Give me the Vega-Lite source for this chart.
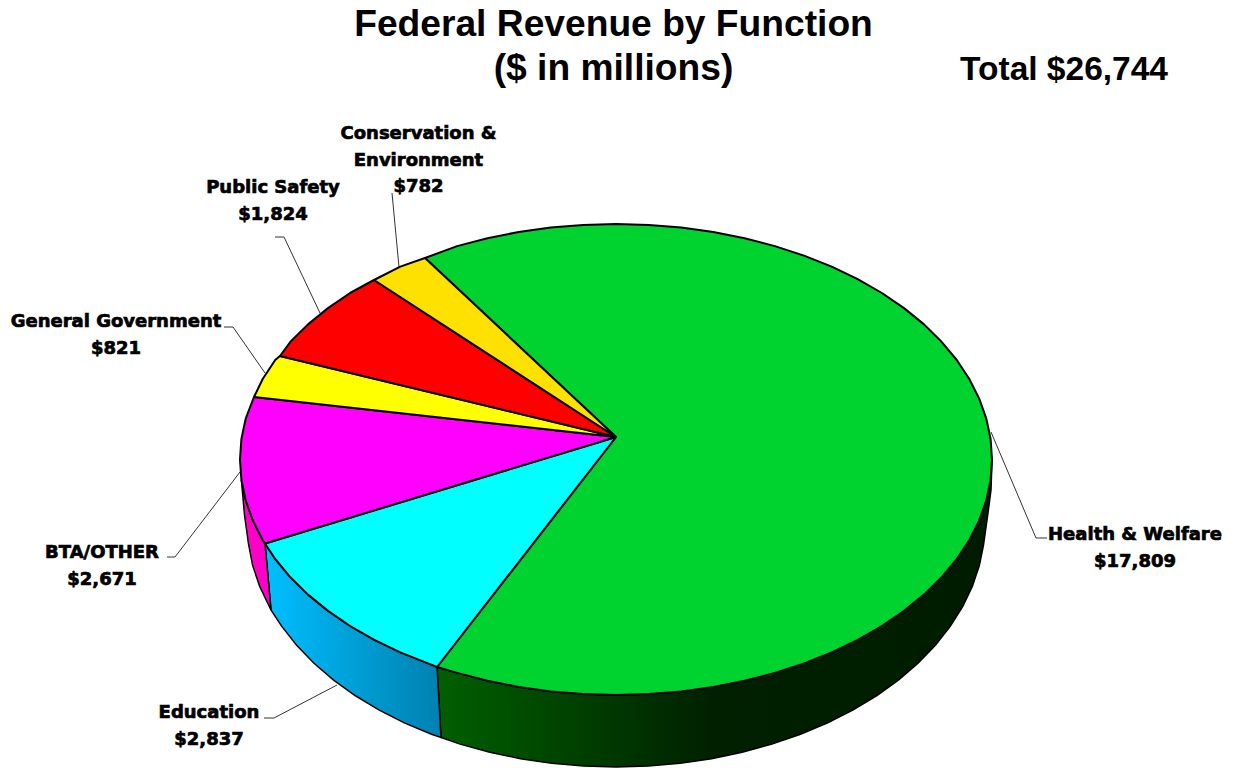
{
"$schema":"https://vega.github.io/schema/vega-lite/v6.json",
"width":1233,"height":768,"padding":0,"autosize":"none","background":"white",
"title":{"text":["Federal Revenue by Function","($ in millions)"],"font":"Liberation Sans","fontSize":37.2,"fontWeight":"bold","color":"black","anchor":"middle","baseline":"top","offset":-88,"dx":-3,"lineHeight":44},
"config":{"view":{"stroke":null}},
"datasets":{
"side":[
{"s":"Health & Welfare","o":1,"x":437,"y":667},{"s":"Health & Welfare","o":2,"x":457.1,"y":672.9},{"s":"Health & Welfare","o":3,"x":487.4,"y":680.8},{"s":"Health & Welfare","o":4,"x":518.7,"y":687},{"s":"Health & Welfare","o":5,"x":550.7,"y":691.4},{"s":"Health & Welfare","o":6,"x":583.2,"y":694.1},{"s":"Health & Welfare","o":7,"x":616,"y":695},{"s":"Health & Welfare","o":8,"x":648.8,"y":694.1},{"s":"Health & Welfare","o":9,"x":681.3,"y":691.4},{"s":"Health & Welfare","o":10,"x":713.3,"y":687},{"s":"Health & Welfare","o":11,"x":744.6,"y":680.8},{"s":"Health & Welfare","o":12,"x":774.9,"y":672.9},{"s":"Health & Welfare","o":13,"x":804,"y":663.4},{"s":"Health & Welfare","o":14,"x":831.7,"y":652.4},{"s":"Health & Welfare","o":15,"x":857.7,"y":639.9},{"s":"Health & Welfare","o":16,"x":881.9,"y":626},{"s":"Health & Welfare","o":17,"x":904,"y":610.9},{"s":"Health & Welfare","o":18,"x":924,"y":594.6},{"s":"Health & Welfare","o":19,"x":941.6,"y":577.3},{"s":"Health & Welfare","o":20,"x":956.8,"y":559},{"s":"Health & Welfare","o":21,"x":969.3,"y":540},{"s":"Health & Welfare","o":22,"x":979.2,"y":520.4},{"s":"Health & Welfare","o":23,"x":986.3,"y":500.4},{"s":"Health & Welfare","o":24,"x":990.6,"y":480},{"s":"Health & Welfare","o":25,"x":992,"y":459.5},{"s":"Health & Welfare","o":26,"x":991,"y":490},{"s":"Health & Welfare","o":27,"x":988,"y":513},{"s":"Health & Welfare","o":28,"x":983.5,"y":545},{"s":"Health & Welfare","o":29,"x":979.4,"y":565.4},{"s":"Health & Welfare","o":30,"x":972.4,"y":586.1},{"s":"Health & Welfare","o":31,"x":962.8,"y":606.4},{"s":"Health & Welfare","o":32,"x":950.4,"y":626.1},{"s":"Health & Welfare","o":33,"x":935.6,"y":645},{"s":"Health & Welfare","o":34,"x":918.3,"y":663},{"s":"Health & Welfare","o":35,"x":898.7,"y":679.8},{"s":"Health & Welfare","o":36,"x":876.9,"y":695.5},{"s":"Health & Welfare","o":37,"x":853.2,"y":709.9},{"s":"Health & Welfare","o":38,"x":827.7,"y":722.9},{"s":"Health & Welfare","o":39,"x":800.5,"y":734.3},{"s":"Health & Welfare","o":40,"x":771.9,"y":744.1},{"s":"Health & Welfare","o":41,"x":742.2,"y":752.3},{"s":"Health & Welfare","o":42,"x":711.5,"y":758.7},{"s":"Health & Welfare","o":43,"x":680.1,"y":763.3},{"s":"Health & Welfare","o":44,"x":648.2,"y":766.1},{"s":"Health & Welfare","o":45,"x":616,"y":767},{"s":"Health & Welfare","o":46,"x":583.8,"y":766.1},{"s":"Health & Welfare","o":47,"x":551.9,"y":763.3},{"s":"Health & Welfare","o":48,"x":520.5,"y":758.7},{"s":"Health & Welfare","o":49,"x":489.8,"y":752.3},{"s":"Health & Welfare","o":50,"x":460.1,"y":744.1},{"s":"Health & Welfare","o":51,"x":441,"y":737.5},{"s":"Health & Welfare","o":52,"x":437,"y":667},
{"s":"Education","o":1,"x":265,"y":543.5},{"s":"Education","o":2,"x":275.2,"y":559},{"s":"Education","o":3,"x":290.4,"y":577.3},{"s":"Education","o":4,"x":308,"y":594.6},{"s":"Education","o":5,"x":328,"y":610.9},{"s":"Education","o":6,"x":350.1,"y":626},{"s":"Education","o":7,"x":374.3,"y":639.9},{"s":"Education","o":8,"x":400.3,"y":652.4},{"s":"Education","o":9,"x":428,"y":663.4},{"s":"Education","o":10,"x":437,"y":667},{"s":"Education","o":11,"x":441,"y":737.5},{"s":"Education","o":12,"x":431.5,"y":734.3},{"s":"Education","o":13,"x":404.3,"y":722.9},{"s":"Education","o":14,"x":378.8,"y":709.9},{"s":"Education","o":15,"x":355.1,"y":695.5},{"s":"Education","o":16,"x":333.3,"y":679.8},{"s":"Education","o":17,"x":313.7,"y":663},{"s":"Education","o":18,"x":296.4,"y":645},{"s":"Education","o":19,"x":281.6,"y":626.1},{"s":"Education","o":20,"x":271,"y":610},{"s":"Education","o":21,"x":265,"y":543.5},
{"s":"BTA/OTHER","o":1,"x":241.4,"y":480},{"s":"BTA/OTHER","o":2,"x":245.7,"y":500.4},{"s":"BTA/OTHER","o":3,"x":252.8,"y":520.4},{"s":"BTA/OTHER","o":4,"x":262.7,"y":540},{"s":"BTA/OTHER","o":5,"x":265,"y":543.5},{"s":"BTA/OTHER","o":6,"x":271,"y":610},{"s":"BTA/OTHER","o":7,"x":259.6,"y":586.1},{"s":"BTA/OTHER","o":8,"x":252.6,"y":565.4},{"s":"BTA/OTHER","o":9,"x":248.5,"y":544},{"s":"BTA/OTHER","o":10,"x":244.5,"y":515},{"s":"BTA/OTHER","o":11,"x":241.4,"y":480}
],
"top":[
{"s":"Health & Welfare","o":0,"x":616,"y":437},{"s":"Health & Welfare","o":1,"x":425,"y":258},{"s":"Health & Welfare","o":2,"x":457.1,"y":246.1},{"s":"Health & Welfare","o":3,"x":487.4,"y":238.2},{"s":"Health & Welfare","o":4,"x":518.7,"y":232},{"s":"Health & Welfare","o":5,"x":550.7,"y":227.6},{"s":"Health & Welfare","o":6,"x":583.2,"y":224.9},{"s":"Health & Welfare","o":7,"x":616,"y":224},{"s":"Health & Welfare","o":8,"x":648.8,"y":224.9},{"s":"Health & Welfare","o":9,"x":681.3,"y":227.6},{"s":"Health & Welfare","o":10,"x":713.3,"y":232},{"s":"Health & Welfare","o":11,"x":744.6,"y":238.2},{"s":"Health & Welfare","o":12,"x":774.9,"y":246.1},{"s":"Health & Welfare","o":13,"x":804,"y":255.6},{"s":"Health & Welfare","o":14,"x":831.7,"y":266.6},{"s":"Health & Welfare","o":15,"x":857.7,"y":279.1},{"s":"Health & Welfare","o":16,"x":881.9,"y":293},{"s":"Health & Welfare","o":17,"x":904,"y":308.1},{"s":"Health & Welfare","o":18,"x":924,"y":324.4},{"s":"Health & Welfare","o":19,"x":941.6,"y":341.8},{"s":"Health & Welfare","o":20,"x":956.8,"y":360},{"s":"Health & Welfare","o":21,"x":969.3,"y":379},{"s":"Health & Welfare","o":22,"x":979.2,"y":398.6},{"s":"Health & Welfare","o":23,"x":986.3,"y":418.6},{"s":"Health & Welfare","o":24,"x":990.6,"y":439},{"s":"Health & Welfare","o":25,"x":992,"y":459.5},{"s":"Health & Welfare","o":26,"x":990.6,"y":480},{"s":"Health & Welfare","o":27,"x":986.3,"y":500.4},{"s":"Health & Welfare","o":28,"x":979.2,"y":520.4},{"s":"Health & Welfare","o":29,"x":969.3,"y":540},{"s":"Health & Welfare","o":30,"x":956.8,"y":559},{"s":"Health & Welfare","o":31,"x":941.6,"y":577.3},{"s":"Health & Welfare","o":32,"x":924,"y":594.6},{"s":"Health & Welfare","o":33,"x":904,"y":610.9},{"s":"Health & Welfare","o":34,"x":881.9,"y":626},{"s":"Health & Welfare","o":35,"x":857.7,"y":639.9},{"s":"Health & Welfare","o":36,"x":831.7,"y":652.4},{"s":"Health & Welfare","o":37,"x":804,"y":663.4},{"s":"Health & Welfare","o":38,"x":774.9,"y":672.9},{"s":"Health & Welfare","o":39,"x":744.6,"y":680.8},{"s":"Health & Welfare","o":40,"x":713.3,"y":687},{"s":"Health & Welfare","o":41,"x":681.3,"y":691.4},{"s":"Health & Welfare","o":42,"x":648.8,"y":694.1},{"s":"Health & Welfare","o":43,"x":616,"y":695},{"s":"Health & Welfare","o":44,"x":583.2,"y":694.1},{"s":"Health & Welfare","o":45,"x":550.7,"y":691.4},{"s":"Health & Welfare","o":46,"x":518.7,"y":687},{"s":"Health & Welfare","o":47,"x":487.4,"y":680.8},{"s":"Health & Welfare","o":48,"x":457.1,"y":672.9},{"s":"Health & Welfare","o":49,"x":437,"y":667},{"s":"Health & Welfare","o":50,"x":616,"y":437},
{"s":"Education","o":0,"x":616,"y":437},{"s":"Education","o":1,"x":437,"y":667},{"s":"Education","o":2,"x":428,"y":663.4},{"s":"Education","o":3,"x":400.3,"y":652.4},{"s":"Education","o":4,"x":374.3,"y":639.9},{"s":"Education","o":5,"x":350.1,"y":626},{"s":"Education","o":6,"x":328,"y":610.9},{"s":"Education","o":7,"x":308,"y":594.6},{"s":"Education","o":8,"x":290.4,"y":577.3},{"s":"Education","o":9,"x":275.2,"y":559},{"s":"Education","o":10,"x":265,"y":543.5},{"s":"Education","o":11,"x":616,"y":437},
{"s":"BTA/OTHER","o":0,"x":616,"y":437},{"s":"BTA/OTHER","o":1,"x":265,"y":543.5},{"s":"BTA/OTHER","o":2,"x":262.7,"y":540},{"s":"BTA/OTHER","o":3,"x":252.8,"y":520.4},{"s":"BTA/OTHER","o":4,"x":245.7,"y":500.4},{"s":"BTA/OTHER","o":5,"x":241.4,"y":480},{"s":"BTA/OTHER","o":6,"x":240,"y":459.5},{"s":"BTA/OTHER","o":7,"x":241.4,"y":439},{"s":"BTA/OTHER","o":8,"x":245.7,"y":418.6},{"s":"BTA/OTHER","o":9,"x":254,"y":397},{"s":"BTA/OTHER","o":10,"x":616,"y":437},
{"s":"General Government","o":0,"x":616,"y":437},{"s":"General Government","o":1,"x":254,"y":397},{"s":"General Government","o":2,"x":262.7,"y":379},{"s":"General Government","o":3,"x":275.2,"y":360},{"s":"General Government","o":4,"x":280,"y":356},{"s":"General Government","o":5,"x":616,"y":437},
{"s":"Public Safety","o":0,"x":616,"y":437},{"s":"Public Safety","o":1,"x":280,"y":356},{"s":"Public Safety","o":2,"x":290.4,"y":341.8},{"s":"Public Safety","o":3,"x":308,"y":324.4},{"s":"Public Safety","o":4,"x":328,"y":308.1},{"s":"Public Safety","o":5,"x":350.1,"y":293},{"s":"Public Safety","o":6,"x":374,"y":280},{"s":"Public Safety","o":7,"x":616,"y":437},
{"s":"Conservation & Environment","o":0,"x":616,"y":437},{"s":"Conservation & Environment","o":1,"x":374,"y":280},{"s":"Conservation & Environment","o":2,"x":400.3,"y":266.6},{"s":"Conservation & Environment","o":3,"x":425,"y":258},{"s":"Conservation & Environment","o":4,"x":616,"y":437}
],
"leaders":[
{"s":"Public Safety","o":1,"x":275,"y":237},{"s":"Public Safety","o":2,"x":284,"y":237},{"s":"Public Safety","o":3,"x":320,"y":313},
{"s":"General Government","o":1,"x":224,"y":327},{"s":"General Government","o":2,"x":233,"y":327},{"s":"General Government","o":3,"x":265,"y":373},
{"s":"Conservation & Environment","o":1,"x":392,"y":193},{"s":"Conservation & Environment","o":2,"x":399,"y":267},
{"s":"BTA/OTHER","o":1,"x":167,"y":557},{"s":"BTA/OTHER","o":2,"x":175,"y":557},{"s":"BTA/OTHER","o":3,"x":240,"y":472},
{"s":"Education","o":1,"x":264,"y":718},{"s":"Education","o":2,"x":274,"y":718},{"s":"Education","o":3,"x":337,"y":685},
{"s":"Health & Welfare","o":1,"x":1047,"y":538},{"s":"Health & Welfare","o":2,"x":1036,"y":538},{"s":"Health & Welfare","o":3,"x":991,"y":432}
],
"labels":[
{"t":"Conservation &\nEnvironment\n$782","x":418.5,"y":125},
{"t":"Public Safety\n$1,824","x":273,"y":179},
{"t":"General Government\n$821","x":116,"y":313},
{"t":"BTA/OTHER\n$2,671","x":102,"y":544},
{"t":"Education\n$2,837","x":209,"y":704},
{"t":"Health & Welfare\n$17,809","x":1135,"y":526}
],
"total":[{"t":"Total $26,744","x":1064,"y":70}]
},
"layer":[
{"data":{"name":"leaders"},"mark":{"type":"line","stroke":"#333333","strokeWidth":1},
"encoding":{"x":{"field":"x","type":"quantitative","scale":{"domain":[0,1233],"nice":false,"zero":false},"axis":null},"y":{"field":"y","type":"quantitative","scale":{"domain":[768,0],"nice":false,"zero":false},"axis":null},"detail":{"field":"s"},"order":{"field":"o","type":"ordinal"}}},
{"data":{"name":"side"},"transform":[{"filter":"datum.s==='Health & Welfare'"}],"mark":{"type":"line","stroke":"black","strokeWidth":1.5,"fill":{"gradient":"linear","x1":0,"y1":0,"x2":1,"y2":0,"stops":[{"offset":0,"color":"#006000"},{"offset":0.25,"color":"#004000"},{"offset":0.5,"color":"#002000"},{"offset":1,"color":"#001C00"}]}},
"encoding":{"x":{"field":"x","type":"quantitative","axis":null},"y":{"field":"y","type":"quantitative","axis":null},"order":{"field":"o","type":"quantitative"}}},
{"data":{"name":"side"},"transform":[{"filter":"datum.s==='Education'"}],"mark":{"type":"line","stroke":"black","strokeWidth":1.5,"fill":{"gradient":"linear","x1":0,"y1":0,"x2":1,"y2":0,"stops":[{"offset":0,"color":"#00BFFF"},{"offset":1,"color":"#0080B0"}]}},
"encoding":{"x":{"field":"x","type":"quantitative","axis":null},"y":{"field":"y","type":"quantitative","axis":null},"order":{"field":"o","type":"quantitative"}}},
{"data":{"name":"side"},"transform":[{"filter":"datum.s==='BTA/OTHER'"}],"mark":{"type":"line","stroke":"black","strokeWidth":1.5,"fill":"#FF00C8"},
"encoding":{"x":{"field":"x","type":"quantitative","axis":null},"y":{"field":"y","type":"quantitative","axis":null},"order":{"field":"o","type":"quantitative"}}},
{"data":{"name":"top"},"mark":{"type":"line","stroke":"black","strokeWidth":2,"strokeJoin":"round"},
"encoding":{"x":{"field":"x","type":"quantitative","axis":null},"y":{"field":"y","type":"quantitative","axis":null},"order":{"field":"o","type":"quantitative"},
"fill":{"field":"s","type":"nominal","legend":null,"scale":{"domain":["Health & Welfare","Education","BTA/OTHER","General Government","Public Safety","Conservation & Environment"],"range":["#00D230","#00FFFF","#FF00FF","#FFFF00","#FF0000","#FFE100"]}}}},
{"data":{"name":"labels"},"mark":{"type":"text","font":"DejaVu Sans","fontWeight":"bold","fontSize":18,"lineHeight":26.5,"lineBreak":"\n","align":"center","baseline":"top","color":"black","stroke":"black","strokeWidth":0.7},
"encoding":{"x":{"field":"x","type":"quantitative","axis":null},"y":{"field":"y","type":"quantitative","axis":null},"text":{"field":"t"}}},
{"data":{"name":"total"},"mark":{"type":"text","font":"Liberation Sans","fontWeight":"bold","fontSize":33.5,"align":"center","baseline":"middle","color":"black"},
"encoding":{"x":{"field":"x","type":"quantitative","axis":null},"y":{"field":"y","type":"quantitative","axis":null},"text":{"field":"t"}}}
]
}
